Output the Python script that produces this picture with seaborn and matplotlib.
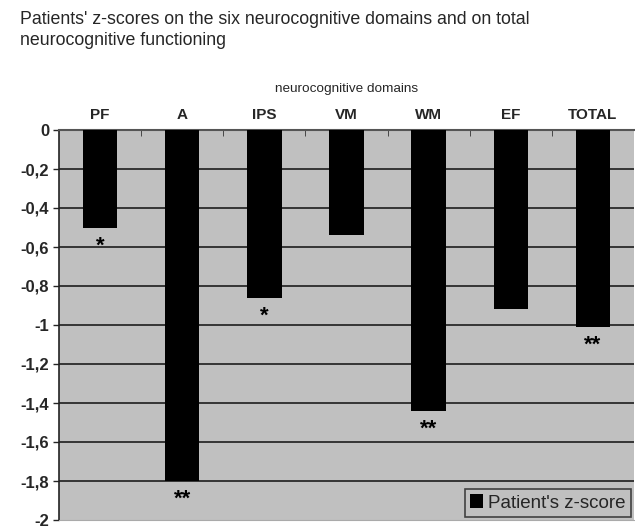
import matplotlib
matplotlib.use("Agg")
import matplotlib.pyplot as plt
import seaborn as sns
import pandas as pd
from matplotlib.ticker import FixedLocator, FixedFormatter

categories = ["PF", "A", "IPS", "VM", "WM", "EF", "TOTAL"]
zscores = [-0.50, -1.80, -0.86, -0.54, -1.44, -0.92, -1.01]
significance = ["*", "**", "*", "", "**", "", "**"]
ytick_values = [0, -0.2, -0.4, -0.6, -0.8, -1.0, -1.2, -1.4, -1.6, -1.8, -2.0]
ytick_labels = ["0", "-0,2", "-0,4", "-0,6", "-0,8", "-1", "-1,2", "-1,4", "-1,6", "-1,8", "-2"]
series_name = "Patient's z-score"

sns.set_style("white")
plt.rcParams["font.family"] = ["Liberation Sans", "DejaVu Sans"]

df = pd.DataFrame({"domain": categories, "z": zscores})

fig = plt.figure(figsize=(6.35, 5.28), dpi=100)
top_px, bot_px = 130, 520
ax = fig.add_axes([59 / 635, 1 - bot_px / 528, (635 - 60) / 635, (bot_px - top_px) / 528])
ax.set_facecolor("#c0c0c0")

sns.barplot(data=df, x="domain", y="z", color="black", width=0.42,
            saturation=1, label=series_name, ax=ax, zorder=3,
            edgecolor="black", linewidth=0)

ax.set_ylim(-2, 0)
ax.set_xlim(-0.5, len(categories) - 0.5)

ax.yaxis.set_major_locator(FixedLocator(ytick_values))
ax.yaxis.set_major_formatter(FixedFormatter(ytick_labels))
for y in ytick_values[1:-1]:
    ax.axhline(y, color="#2a2a2a", lw=1.3, zorder=1)

ax.xaxis.tick_top()
ax.xaxis.set_label_position("top")
ax.set_xlabel("neurocognitive domains", fontsize=9.7, labelpad=11)
ax.set_ylabel("")
ax.tick_params(axis="x", which="major", length=0, pad=6, labelsize=11)
ax.set_xticks([i + 0.5 for i in range(len(categories) - 1)], minor=True)
ax.tick_params(axis="x", which="minor", direction="in", length=4, top=True, bottom=False, color="#333333")
ax.tick_params(axis="y", which="major", length=4, left=True, width=1, labelsize=12, pad=3)
for lab in ax.get_yticklabels():
    lab.set_fontweight("bold")
for lab in ax.get_xticklabels():
    lab.set_fontweight("bold")

ax.spines["right"].set_visible(False)
ax.spines["left"].set_color("#222222")
ax.spines["left"].set_linewidth(1.2)
ax.spines["top"].set_color("#555555")
ax.spines["top"].set_linewidth(1.5)
ax.spines["bottom"].set_color("#aaaaaa")
ax.spines["bottom"].set_linewidth(0.8)

for i, (v, s) in enumerate(zip(zscores, significance)):
    if s:
        ax.text(i, v - 0.04, s, ha="center", va="top", fontsize=16,
                fontweight="bold", color="black", zorder=4)

leg = ax.legend(loc="lower right", frameon=True, fontsize=13.5, handlelength=0.7,
                handleheight=0.7, handletextpad=0.25, borderpad=0.3,
                borderaxespad=0.15, fancybox=False)
leg.get_frame().set_facecolor("#c0c0c0")
leg.get_frame().set_edgecolor("#222222")
leg.get_frame().set_linewidth(1.2)

fig.text(20 / 635, 1 - 11 / 528,
         "Patients' z-scores on the six neurocognitive domains and on total\nneurocognitive functioning",
         ha="left", va="top", fontsize=12.8, linespacing=1.3)

fig.savefig("out.png", dpi=100, facecolor="white")
